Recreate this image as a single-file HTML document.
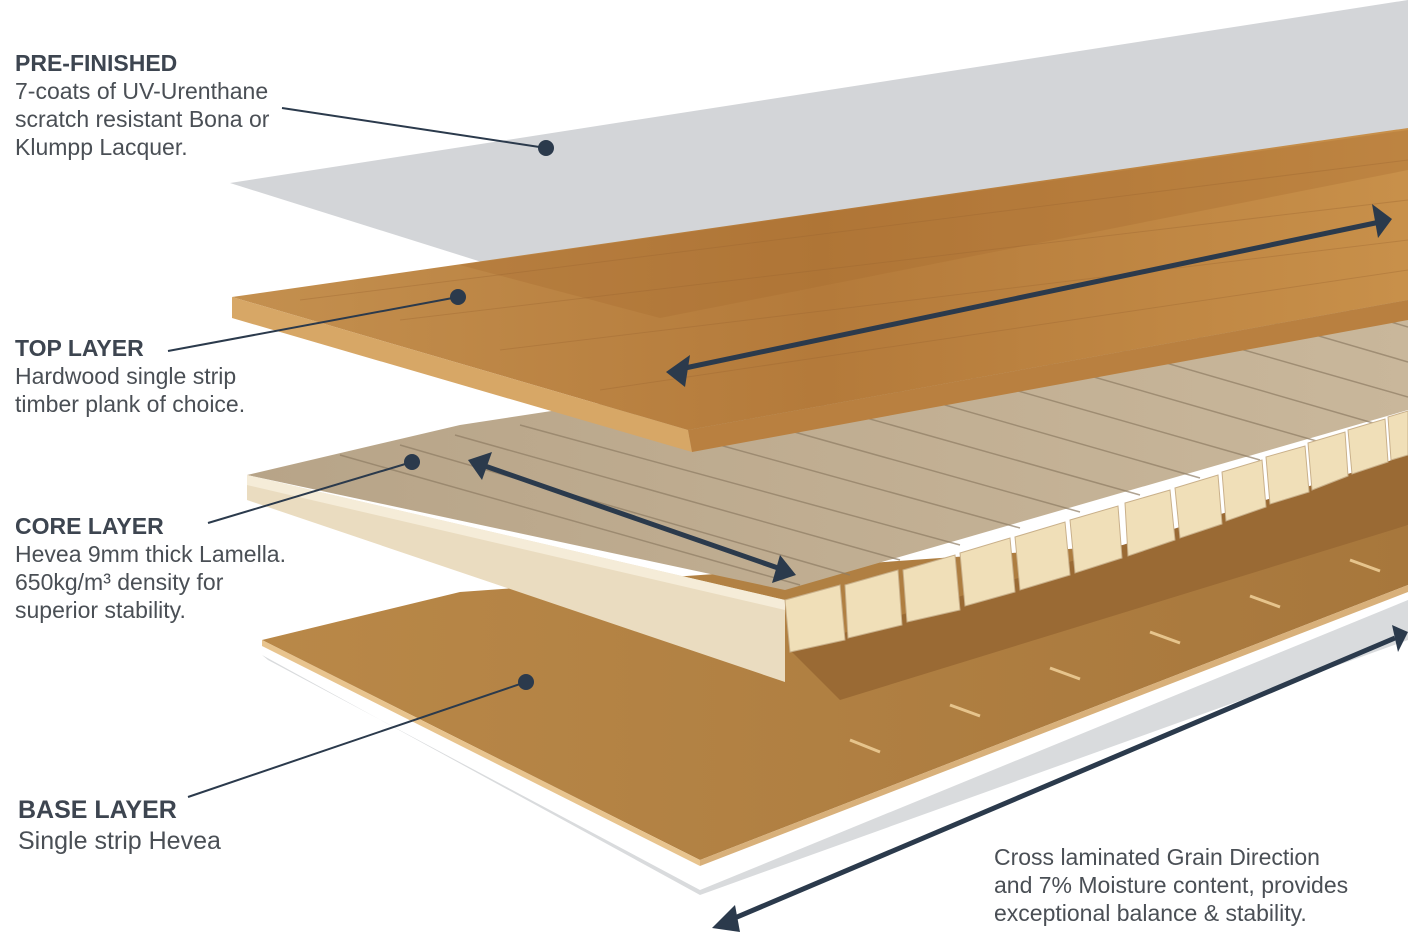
<!DOCTYPE html>
<html><head><meta charset="utf-8"><style>
html,body{margin:0;padding:0;background:#fff;}
.t{position:absolute;font-family:"Liberation Sans",sans-serif;color:#4a4f55;font-size:23px;line-height:28px;}
.h{font-weight:bold;color:#3d4550;font-size:23px;}
</style></head><body>
<div style="position:relative;width:1408px;height:946px;overflow:hidden;">
<svg width="1408" height="946" style="position:absolute;left:0;top:0">
<defs>
<linearGradient id="wood" x1="0" y1="0" x2="1" y2="0"><stop offset="0" stop-color="#c4904f"/><stop offset="0.5" stop-color="#b47a3a"/><stop offset="1" stop-color="#c8904a"/></linearGradient>
<linearGradient id="core" x1="0" y1="0" x2="1" y2="0"><stop offset="0" stop-color="#b7a488"/><stop offset="1" stop-color="#c9b79b"/></linearGradient>
<linearGradient id="base" x1="0" y1="0" x2="1" y2="0"><stop offset="0" stop-color="#b98848"/><stop offset="1" stop-color="#a7773c"/></linearGradient>
</defs>
<polygon points="268,660 700,890 1408,600 1408,640 700,895 262,655" fill="#d9dbdd"/>
<polygon points="262,640 460,592 1408,525 1408,585 700,860" fill="url(#base)"/>
<polygon points="262,640 700,860 700,866 262,646" fill="#e8c48e"/>
<polygon points="700,860 1408,585 1408,592 700,866" fill="#d8b07a"/>
<g stroke="#e6c48c" stroke-width="3">
<line x1="850" y1="740" x2="880" y2="752"/><line x1="950" y1="705" x2="980" y2="716"/><line x1="1050" y1="668" x2="1080" y2="679"/><line x1="1150" y1="632" x2="1180" y2="643"/><line x1="1250" y1="596" x2="1280" y2="607"/><line x1="1350" y1="560" x2="1380" y2="571"/>
</g>
<polygon points="790,650 1408,455 1408,525 840,700" fill="#9a6a34"/>
<polygon points="247,475 460,425 1408,280 1408,410 785,590" fill="url(#core)"/>
<g stroke="#8f7d64" stroke-width="1.5" opacity="0.7">
<line x1="340" y1="455" x2="800" y2="585"/><line x1="400" y1="445" x2="850" y2="575"/><line x1="455" y1="435" x2="900" y2="560"/>
<line x1="520" y1="425" x2="960" y2="545"/><line x1="600" y1="412" x2="1020" y2="528"/><line x1="680" y1="400" x2="1080" y2="512"/>
<line x1="760" y1="388" x2="1140" y2="495"/><line x1="840" y1="375" x2="1200" y2="478"/><line x1="920" y1="363" x2="1260" y2="460"/>
<line x1="1000" y1="350" x2="1320" y2="442"/><line x1="1080" y1="338" x2="1380" y2="425"/><line x1="1160" y1="326" x2="1408" y2="397"/>
<line x1="1240" y1="313" x2="1408" y2="362"/><line x1="1320" y1="301" x2="1408" y2="327"/>
</g>
<polygon points="247,475 785,600 785,682 247,500" fill="#eadcc0"/>
<polygon points="247,475 785,600 785,610 247,485" fill="#f5ecd8"/>
<g fill="#f0dfb8" stroke="#c9b08a" stroke-width="1">
<polygon points="785,600 840,585 845,640 790,652"/><polygon points="845,585 898,570 902,625 848,638"/>
<polygon points="903,570 955,555 960,610 907,622"/><polygon points="960,553 1010,538 1015,592 965,606"/>
<polygon points="1015,537 1065,522 1070,575 1020,590"/><polygon points="1070,520 1118,506 1122,558 1075,573"/>
<polygon points="1125,503 1170,490 1175,540 1128,556"/><polygon points="1175,488 1218,475 1222,524 1180,538"/>
<polygon points="1222,472 1262,460 1266,507 1226,521"/><polygon points="1266,457 1305,446 1309,492 1270,504"/>
<polygon points="1308,443 1345,432 1348,476 1312,490"/><polygon points="1348,430 1385,419 1388,462 1352,474"/>
<polygon points="1388,417 1408,411 1408,455 1391,460"/>
</g>
<polygon points="230,183 1408,0 1408,130 660,318" fill="#d3d5d8"/>
<polygon points="232,297 1408,128 1408,300 688,430" fill="url(#wood)"/>
<polygon points="460,265 1408,130 1408,170 660,318" fill="#a46a2e" opacity="0.3"/>
<g stroke="#9b6530" stroke-width="1" opacity="0.35">
<line x1="300" y1="300" x2="1408" y2="160"/><line x1="400" y1="320" x2="1408" y2="200"/><line x1="500" y1="350" x2="1408" y2="240"/><line x1="600" y1="390" x2="1408" y2="270"/>
</g>
<polygon points="232,297 688,430 692,452 232,318" fill="#d7a766"/>
<polygon points="688,430 1408,300 1408,320 692,452" fill="#b98040"/>
<g stroke="#2b3a4c" stroke-width="5" fill="#2b3a4c">
<line x1="685" y1="368" x2="1380" y2="222"/>
<polygon points="666,372 690,355 685,387" stroke="none"/>
<polygon points="1392,219 1372,204 1378,238" stroke="none"/>
<line x1="485" y1="466" x2="778" y2="568"/>
<polygon points="468,460 492,452 482,480" stroke="none"/>
<polygon points="796,575 772,583 780,555" stroke="none"/>
<line x1="730" y1="920" x2="1395" y2="638"/>
<polygon points="712,928 735,905 740,932" stroke="none"/>
<polygon points="1408,632 1392,625 1398,652" stroke="none"/>
</g>
<g stroke="#2b3a4c" stroke-width="2">
<line x1="282" y1="108" x2="546" y2="148"/>
<line x1="168" y1="351" x2="458" y2="297"/>
<line x1="208" y1="523" x2="412" y2="462"/>
<line x1="188" y1="797" x2="526" y2="682"/>
</g>
<g fill="#2b3a4c"><circle cx="546" cy="148" r="8"/><circle cx="458" cy="297" r="8"/><circle cx="412" cy="462" r="8"/><circle cx="526" cy="682" r="8"/></g>
</svg>
<div class="t" style="left:15px;top:49px"><span class="h">PRE-FINISHED</span><br>7-coats of UV-Urenthane<br>scratch resistant Bona or<br>Klumpp Lacquer.</div>
<div class="t" style="left:15px;top:334px"><span class="h">TOP LAYER</span><br>Hardwood single strip<br>timber plank of choice.</div>
<div class="t" style="left:15px;top:512px"><span class="h">CORE LAYER</span><br>Hevea 9mm thick Lamella.<br>650kg/m³ density for<br>superior stability.</div>
<div class="t" style="left:18px;top:795px;font-size:25px;line-height:31px"><span class="h" style="font-size:25px">BASE LAYER</span><br>Single strip Hevea</div>
<div class="t" style="left:994px;top:843px">Cross laminated Grain Direction<br>and 7% Moisture content, provides<br>exceptional balance &amp; stability.</div>
</div>
</body></html>
